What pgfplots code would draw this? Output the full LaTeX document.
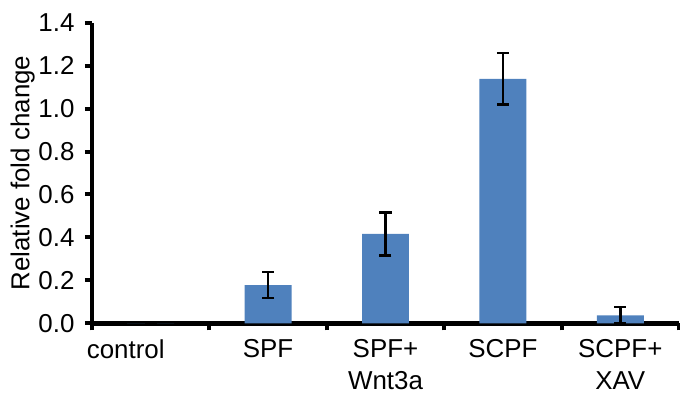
\documentclass[border=0pt]{standalone}
\usepackage{fontspec}
\setmainfont{Liberation Sans}
\usepackage{pgfplots}
\pgfplotsset{compat=1.18}
\usepackage{pgfplotstable}
\definecolor{barblue}{HTML}{4F81BD}

\pgfplotstableread{
x y err
0 0 0
1 0.178 0.060
2 0.416 0.100
3 1.138 0.120
4 0.037 0.038
}\datatable

\begin{document}
\begin{tikzpicture}[font=\fontsize{26}{32}\selectfont]
\begin{axis}[
  scale only axis, width=587bp, height=300.6bp,
  xmin=-0.5, xmax=4.5, ymin=0, ymax=1.4,
  axis x line=bottom, axis y line=left,
  axis line style={-, line width=4.5bp, black},
  xtick={-0.5,0.5,1.5,2.5,3.5,4.5}, xticklabels={},
  extra x ticks={0,1,2,3,4},
  extra x tick labels={{\kern-25bp control\kern25bp},SPF,{SPF+\\Wnt3a},SCPF,{SCPF+\\XAV}},
  extra x tick style={major tick length=0pt, xticklabel style={align=center, yshift=-13bp}},
  ytick={0,0.2,0.4,0.6,0.8,1.0,1.2,1.4},
  tick align=outside, major tick length=7bp,
  tick style={line width=4bp, black},
  y tick label style={xshift=-7bp},
  /pgf/number format/fixed, /pgf/number format/fixed zerofill, /pgf/number format/precision=1,
  /pgf/number format/assume math mode=true,
  tick label style={font=\fontsize{26}{32}\selectfont},
  ylabel={Relative fold change},
  ylabel style={at={([xshift=-57bp]axis description cs:0,0.5)}, anchor=south, inner sep=0pt, font=\fontsize{26}{32}\selectfont},
  ybar, bar width=0.4,
]
\addplot[fill=barblue, draw=none,
  error bars/.cd, y dir=both, y explicit,
  error bar style={line width=2.5bp, black},
  error mark options={rotate=90, line width=2.5bp, mark size=6bp, black}]
  table[x=x, y=y, y error=err]{\datatable};
\end{axis}
\pgfresetboundingbox
\path (-92bp,-72.7bp) rectangle (588bp,323.3bp);
\end{tikzpicture}
\end{document}
